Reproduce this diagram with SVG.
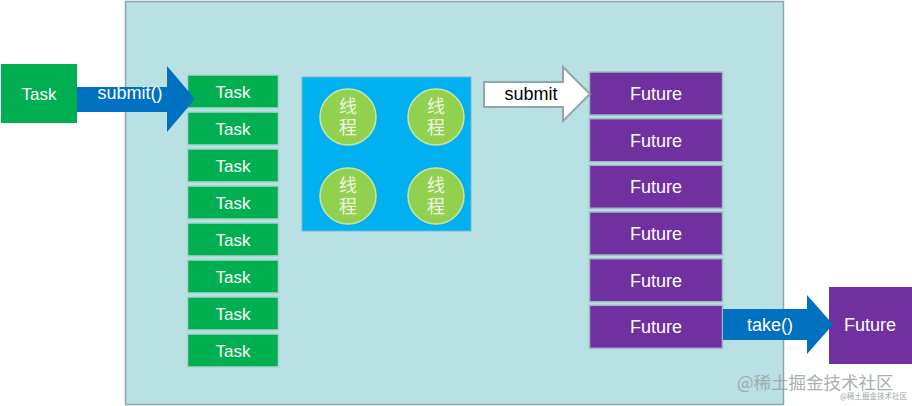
<svg xmlns="http://www.w3.org/2000/svg" width="912" height="406" viewBox="0 0 912 406">
<style>
.t{font-family:"Liberation Sans",Arial,sans-serif;fill:#fff;text-anchor:middle}
.task{fill:#00B050;stroke:#A9D4CF;stroke-width:1.5}
.fut{fill:#7030A0;stroke:#9FB8C4;stroke-width:1.5}
.th{fill:#92D050;stroke:#C8E6A0;stroke-width:1.5}
.cj{font-family:"Noto Sans CJK SC",sans-serif;font-size:18px;fill:#EEF6E0;text-anchor:middle;writing-mode:vertical-rl;letter-spacing:3px}
.wm{font-family:"Noto Sans CJK SC",sans-serif;fill:#9aa4a6}
</style>
<rect width="912" height="406" fill="#fff"/>
<g id="panel"><rect x="125.5" y="1.5" width="658" height="403" fill="#B9E0E2" stroke="#8FA5A8" stroke-width="1.5"/></g>
<g id="task-src"><rect x="1" y="64" width="76" height="59" fill="#00B050"/><text class="t" x="39" y="99.5" font-size="17">Task</text></g>
<g id="task-queue">
<rect class="task" x="187.5" y="75" width="91" height="33"/><text class="t" x="233" y="97.5" font-size="17">Task</text>
<rect class="task" x="187.5" y="112" width="91" height="33"/><text class="t" x="233" y="134.5" font-size="17">Task</text>
<rect class="task" x="187.5" y="149" width="91" height="33"/><text class="t" x="233" y="171.5" font-size="17">Task</text>
<rect class="task" x="187.5" y="186" width="91" height="33"/><text class="t" x="233" y="208.5" font-size="17">Task</text>
<rect class="task" x="187.5" y="223" width="91" height="33"/><text class="t" x="233" y="245.5" font-size="17">Task</text>
<rect class="task" x="187.5" y="260" width="91" height="33"/><text class="t" x="233" y="282.5" font-size="17">Task</text>
<rect class="task" x="187.5" y="297" width="91" height="33"/><text class="t" x="233" y="319.5" font-size="17">Task</text>
<rect class="task" x="187.5" y="334" width="91" height="33"/><text class="t" x="233" y="356.5" font-size="17">Task</text>
</g>
<g id="pool">
<rect x="302" y="77" width="169" height="154" fill="#00B0F0" stroke="#7FB6C8" stroke-width="1"/>
<circle class="th" cx="348" cy="117" r="28"/><text class="cj" x="348" y="118.5">线程</text>
<circle class="th" cx="436" cy="117" r="28"/><text class="cj" x="436" y="118.5">线程</text>
<circle class="th" cx="348" cy="196" r="28"/><text class="cj" x="348" y="197.5">线程</text>
<circle class="th" cx="436" cy="196" r="28"/><text class="cj" x="436" y="197.5">线程</text>
</g>
<g id="futures">
<rect class="fut" x="589.5" y="72" width="133" height="43"/><text class="t" x="656" y="100" font-size="18">Future</text>
<rect class="fut" x="589.5" y="118.7" width="133" height="43"/><text class="t" x="656" y="146.7" font-size="18">Future</text>
<rect class="fut" x="589.5" y="165.3" width="133" height="43"/><text class="t" x="656" y="193.3" font-size="18">Future</text>
<rect class="fut" x="589.5" y="212" width="133" height="43"/><text class="t" x="656" y="240" font-size="18">Future</text>
<rect class="fut" x="589.5" y="258.7" width="133" height="43"/><text class="t" x="656" y="286.7" font-size="18">Future</text>
<rect class="fut" x="589.5" y="305.3" width="133" height="43"/><text class="t" x="656" y="333.3" font-size="18">Future</text>
</g>
<g id="future-out"><rect x="829" y="287" width="83" height="77" fill="#7030A0"/><text class="t" x="870" y="331" font-size="18">Future</text></g>
<g id="connectors">
<polygon points="77,87 167,87 167,66 195,99 167,132 167,112 77,112" fill="#0070C0"/>
<text class="t" x="130" y="99" font-size="18">submit()</text>
<polygon points="484,82 563,82 563,67 590,94 563,121 563,107 484,107" fill="#fff" stroke="#8FA7A9" stroke-width="2"/>
<text x="531" y="100" font-size="18" font-family="Liberation Sans,Arial,sans-serif" text-anchor="middle" fill="#000">submit</text>
<polygon points="723,309 807,309 807,295 833,324.5 807,354 807,340 723,340" fill="#0070C0"/>
<text class="t" x="770" y="331" font-size="18">take()</text>
</g>
<g id="watermark">
<text class="wm" x="737" y="389" font-size="17.5" opacity="0.85">@稀土掘金技术社区</text>
<text class="wm" x="840" y="398.5" font-size="7.5" fill="#666">@稀土掘金技术社区</text>
</g>
</svg>
